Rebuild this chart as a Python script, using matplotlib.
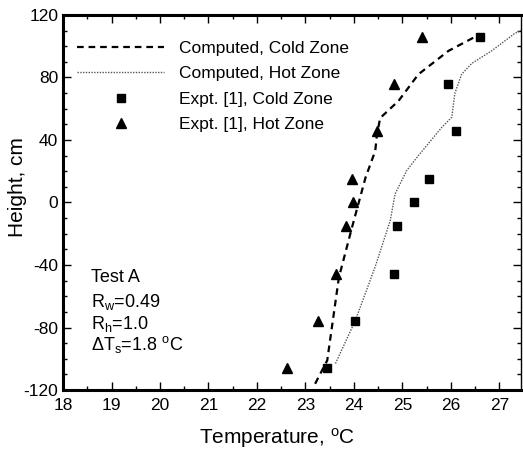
import matplotlib
matplotlib.use("Agg")
import matplotlib.pyplot as plt
from matplotlib.ticker import MultipleLocator

plt.rcParams['font.family'] = ['Liberation Sans', 'DejaVu Sans']
plt.rcParams['axes.unicode_minus'] = False

# Computed, cold zone (dashed)
cold_T = [23.20, 23.45, 23.69, 23.96, 24.24, 24.44, 24.47, 24.54, 24.92, 25.33, 25.95, 26.56]
cold_H = [-116, -101, -48, -16, 16, 33, 42, 54, 65, 82, 97, 107]
# Computed, hot zone (dotted)
hot_T = [23.62, 24.03, 24.44, 24.75, 24.85, 25.09, 25.33, 25.81, 26.02, 26.08, 26.22, 26.43, 26.84, 27.31, 27.5]
hot_H = [-103, -75.5, -41, -11.5, 5.5, 20.5, 30, 48, 54.6, 69.6, 82, 89, 97, 108, 111]
# Experimental, cold zone (squares)
exp_cold_T = [23.45, 24.02, 24.82, 24.89, 25.23, 25.54, 26.10, 25.95, 26.61]
exp_cold_H = [-106, -76, -46, -15, 0, 15, 46, 76, 106]
# Experimental, hot zone (triangles)
exp_hot_T = [22.61, 23.26, 23.64, 23.83, 23.98, 23.96, 24.47, 24.82, 25.40]
exp_hot_H = [-106, -76, -46, -15, 0, 15, 46, 76, 106]

fig = plt.figure(figsize=(5.23, 4.53), dpi=100)
ax = fig.add_axes([0.1205, 0.139, 0.876, 0.828])

ax.plot(cold_T, cold_H, color='black', linestyle=(0, (3, 2.2)), linewidth=1.6,
        label='Computed, Cold Zone')
ax.plot(hot_T, hot_H, color='#555555', linestyle=(0, (1, 1)), linewidth=1.0,
        label='Computed, Hot Zone')
ax.plot(exp_cold_T, exp_cold_H, linestyle='none', marker='s', markersize=6,
        color='black', label='Expt. [1], Cold Zone')
ax.plot(exp_hot_T, exp_hot_H, linestyle='none', marker='^', markersize=7,
        color='black', label='Expt. [1], Hot Zone')

ax.set_xlim(18, 27.45)
ax.set_ylim(-120, 120)
ax.xaxis.set_major_locator(MultipleLocator(1))
ax.xaxis.set_minor_locator(MultipleLocator(0.5))
ax.yaxis.set_major_locator(MultipleLocator(40))
ax.yaxis.set_minor_locator(MultipleLocator(10))
ax.tick_params(which='both', direction='in', top=True, right=True, labelsize=12.5)
ax.tick_params(which='major', length=6, width=1)
ax.tick_params(which='minor', length=3, width=1)
ax.tick_params(axis='x', pad=6)
for s in ['left', 'bottom', 'top']:
    ax.spines[s].set_linewidth(2.2)
ax.spines['right'].set_linewidth(1.0)

ax.set_xlabel('Temperature, $\\mathregular{^oC}$', fontsize=15)
ax.set_ylabel('Height, cm', fontsize=15)
ax.xaxis.set_label_coords(0.467, -0.095)
ax.yaxis.set_label_coords(-0.078, 0.54)

leg = ax.legend(loc='upper left', bbox_to_anchor=(-0.003, 0.972), frameon=False,
                fontsize=12.5, handlelength=5.0, handletextpad=0.85,
                labelspacing=0.58)

ax.text(0.061, 0.288, 'Test A', transform=ax.transAxes, fontsize=13)
ax.text(0.061, 0.221, '$\\mathregular{R_w}$=0.49', transform=ax.transAxes, fontsize=13)
ax.text(0.061, 0.162, '$\\mathregular{R_h}$=1.0', transform=ax.transAxes, fontsize=13)
ax.text(0.061, 0.106, '$\\mathregular{\\Delta T_s}$=1.8 $\\mathregular{^oC}$', transform=ax.transAxes, fontsize=13)

fig.savefig('out.png', dpi=100)
